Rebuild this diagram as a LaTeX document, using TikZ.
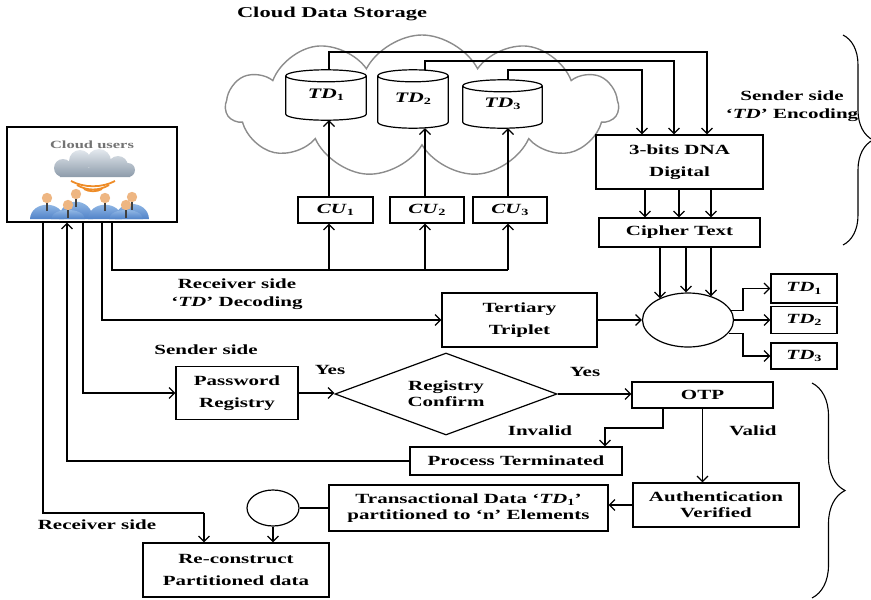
\documentclass[tikz,border=0pt]{standalone}
\usepackage{fontspec}
\setmainfont{Liberation Serif}[FakeStretch=1.5]
\usetikzlibrary{arrows.meta,shapes.geometric,shapes.symbols,decorations.pathreplacing,calc}

\definecolor{iconcloud}{RGB}{165,182,200}
\definecolor{personblue}{RGB}{80,130,200}
\definecolor{personlight}{RGB}{165,200,238}
\definecolor{headc}{RGB}{238,182,130}
\definecolor{signal}{RGB}{238,140,40}

% italic symbol with a small subscript
\newcommand\tdx[2]{\textit{#1}\raisebox{-0.35ex}{\fontsize{9.5}{9.5}\selectfont #2}}
% drum outline around a named node; #2 = half height of the end ellipse
\newcommand\drumoutline[2]{%
  \draw[line width=1.2pt] let \p1=($(#1.east)-(#1.west)$) in
    ([yshift=-#2pt]#1.north west) -- ([yshift=#2pt]#1.south west)
    arc[start angle=180, end angle=360, x radius=0.5*\x1, y radius=#2pt]
    -- ([yshift=-#2pt]#1.north east)
    arc[start angle=0, end angle=360, x radius=0.5*\x1, y radius=#2pt];}
% one figure of the user group
\newcommand\userfig[2]{%
  \shade[top color=personlight, bottom color=personblue]
    (#1-17,219) .. controls (#1-16,#2+2) and (#1+16,#2+2) .. (#1+17,219) -- cycle;
  \fill[headc] (#1,#2) circle[radius=5.2pt];
  \draw[black!75, line width=1.1pt] (#1,#2+5) -- (#1,#2+13);}

\begin{document}
\begin{tikzpicture}[x=1pt,y=-1pt,
  wire/.style={line width=1.2pt},
  arr/.style={wire, -{Straight Barb[length=5.5pt,width=11pt]}},
  box/.style={draw, line width=1.2pt, align=center, inner sep=0pt,
    font=\bfseries\fontsize{14}{22}\selectfont},
  tight/.style={font=\bfseries\fontsize{14}{16}\selectfont},
  lbl/.style={align=center, inner sep=0pt, font=\bfseries\fontsize{14}{18}\selectfont},
  drum/.style={inner sep=0pt, font=\bfseries\fontsize{14.5}{16}\selectfont},
]
\useasboundingbox (0,0) rectangle (871,600);

% ---------- cloud storage ----------
\node[cloud, cloud puffs=11, cloud puff arc=125, aspect=2.8, draw=black!45,
      line width=1.4pt, minimum width=392pt, minimum height=142pt, inner sep=0pt]
      (store) at (422,106) {};
\node[lbl, font=\bfseries\fontsize{15}{18}\selectfont] (title) at (332,14) {Cloud Data Storage};

\node[drum, minimum width=80pt, minimum height=50pt] (td1) at (326,95) {\raisebox{-6pt}{\tdx{TD}{1}}};
\node[drum, minimum width=70pt, minimum height=58pt] (td2) at (413,99) {\raisebox{-3pt}{\tdx{TD}{2}}};
\node[drum, minimum width=79pt, minimum height=48pt] (td3) at (502.5,104) {\raisebox{-6pt}{\tdx{TD}{3}}};
\drumoutline{td1}{6}
\drumoutline{td2}{6}
\drumoutline{td3}{6}

\node[box, minimum width=75pt, minimum height=26pt] (cu1) at (335.5,210) {\tdx{CU}{1}};
\node[box, minimum width=74pt, minimum height=26pt] (cu2) at (427,210) {\tdx{CU}{2}};
\node[box, minimum width=74pt, minimum height=26pt] (cu3) at (510,210) {\tdx{CU}{3}};

% ---------- encoding ----------
\node[box, minimum width=167pt, minimum height=54pt] (dna) at (679.5,162) {3-bits DNA\\Digital};
\node[box, minimum width=161pt, minimum height=29pt] (cipher) at (679.5,232.5) {Cipher Text};
\node[lbl] (enc) at (792,106) {Sender side\\`\textit{TD}' Encoding};

% ---------- decoding ----------
\node[box, minimum width=155pt, minimum height=54pt] (tert) at (519.5,320) {Tertiary\\Triplet};
\node[draw, ellipse, line width=1.2pt, minimum width=91pt, minimum height=54pt, inner sep=0pt] (ell) at (688,320) {};
\node[box, minimum width=66pt, minimum height=29pt] (to1) at (804,288.5) {\tdx{TD}{1}};
\node[box, minimum width=66pt, minimum height=27pt] (to2) at (804,320) {\tdx{TD}{2}};
\node[box, minimum width=66pt, minimum height=26pt] (to3) at (804,356) {\tdx{TD}{3}};
\node[lbl] (dec) at (237,294) {Receiver side\\`\textit{TD}' Decoding};

% ---------- users ----------
\node[draw, line width=1.2pt, minimum width=170pt, minimum height=95pt, inner sep=0pt] (users) at (92,174.5) {};
\node[font=\bfseries\fontsize{11}{11}\selectfont, text=black!55, inner sep=0pt] (utitle) at (92,145) {Cloud users};
\shade[top color=white!70!iconcloud, bottom color=iconcloud!85!black]
  (63,168) circle[radius=9pt] (80,161) circle[radius=11pt] (99,161) circle[radius=12pt]
  (118,166) circle[radius=10pt] (128,170) circle[radius=7pt] (60,168) rectangle (130,177);
\draw[signal, line width=1.8pt] (71,181) .. controls (84,188) and (102,188) .. (115,181);
\draw[signal, line width=1.8pt] (77,185) .. controls (87,191) and (99,191) .. (109,185);
\draw[signal, line width=1.8pt] (84,189) .. controls (89,192) and (97,192) .. (102,189);
\userfig{47}{198}
\userfig{76}{194}
\userfig{105}{198}
\userfig{132}{197}
\userfig{68}{205}
\userfig{126}{205}

% ---------- authentication ----------
\node[lbl] (sside) at (206,350) {Sender side};
\node[box, minimum width=122pt, minimum height=53pt] (pwd) at (237,393) {Password\\Registry};
\node[draw, diamond, aspect=2.7, minimum width=222pt, minimum height=82pt, inner sep=0pt,
      line width=1.2pt, align=center, tight] (dia) at (446,394) {Registry\\Confirm};
\node[box, minimum width=141pt, minimum height=26pt] (otp) at (702.5,395) {OTP};
\node[box, minimum width=212pt, minimum height=28pt] (pt) at (516,461) {Process Terminated};
\node[box, tight, minimum width=166pt, minimum height=44pt] (auth) at (716,505) {Authentication\\Verified};
\node[box, tight, minimum width=279pt, minimum height=46pt] (trans) at (468.5,508)
  {Transactional Data `\tdx{TD}{1}'\\partitioned to `n' Elements};
\node[draw, ellipse, line width=1.2pt, minimum width=52pt, minimum height=36pt, inner sep=0pt] (circ) at (273,508) {};
\node[box, minimum width=186pt, minimum height=54pt] (rec) at (236,570) {Re-construct\\Partitioned data};

\node[lbl] (yes1) at (330,370) {Yes};
\node[lbl] (yes2) at (585,372) {Yes};
\node[lbl] (inv) at (540,431) {Invalid};
\node[lbl] (val) at (753,431) {Valid};
\node[lbl] (rside) at (97,525) {Receiver side};

% ---------- connectors ----------
\coordinate (ca) at (43,0);
\coordinate (cb) at (67,0);
\coordinate (cc) at (83,0);
\coordinate (cd) at (102,0);
\coordinate (ce) at (112,0);
\coordinate (c1) at (329,0);
\coordinate (c2) at (425,0);
\coordinate (c3) at (508,0);

% users to the CU boxes, CU boxes up to storage
\coordinate (bus) at (508,270);
\draw[wire] (users.south -| ce) |- (bus);
\draw[arr] (bus -| c1) -- (cu1.south -| c1);
\draw[arr] (bus -| c2) -- (cu2.south -| c2);
\draw[arr] (bus) -- (cu3.south -| c3);
\draw[arr] (cu1.north -| c1) -- (td1.south -| c1);
\draw[arr] (cu2.north -| c2) -- (td2.south -| c2);
\draw[arr] (cu3.north -| c3) -- (td3.south -| c3);

% storage to the encoder
\coordinate (k1) at (707,52);
\coordinate (k2) at (674,61);
\coordinate (k3) at (642,70);
\draw[arr] (td1.north -| c1) |- (k1) -- (dna.north -| k1);
\draw[arr] (td2.north -| c2) |- (k2) -- (dna.north -| k2);
\draw[arr] (td3.north -| c3) |- (k3) -- (dna.north -| k3);

\foreach \xx in {645,679,711} {
  \coordinate (dcol) at (\xx,0);
  \draw[arr] (dna.south -| dcol) -- (cipher.north -| dcol);
}
% cipher text into the decoder, three parallel lines
\coordinate (e1) at (660,0);
\coordinate (e2) at (686,0);
\coordinate (e3) at (711,0);
\draw[arr] (cipher.south -| e1) -- (e1 |- ell.143);
\draw[arr] (cipher.south -| e2) -- (e2 |- ell.94);
\draw[arr] (cipher.south -| e3) -- (e3 |- ell.45);

% decoding
\draw[arr] (users.south -| cd) |- (tert.west);
\draw[arr] (tert.east) -- (ell.west);
\coordinate (bx) at (743,0);
\draw[arr] (ell.12) -- (ell.12 -| bx) |- (to1.west);
\draw[arr] (ell.east) -- (to2.west);
\draw[arr] (ell.-18) -- (ell.-18 -| bx) |- (to3.west);

% authentication flow
\draw[arr] (users.south -| cc) |- (pwd.west);
\draw[arr] (pwd.east) -- (pwd.east -| dia.west);
\draw[arr] (dia.east) -- (dia.east -| otp.west);
\coordinate (ob) at (663,428);
\coordinate (pb) at (605,428);
\draw[arr] (otp.south -| ob) -- (ob) -- (pb) -- (pt.north -| pb);
\draw[arr] (otp.south) -- (otp.south |- auth.north);
\draw[arr] (pt.west) -| (users.south -| cb);
\draw[arr] (auth.west) -- (auth.west -| trans.east);
\draw[wire] (circ.east) -- (circ.east -| trans.west);
\draw[arr] (circ.south) -- (circ.south |- rec.north);
\coordinate (rcol) at (204,513);
\draw[wire] (users.south -| ca) |- (rcol);
\draw[arr] (rcol) -- (rec.north -| rcol);

% braces
\draw[decorate, decoration={brace, amplitude=30pt}, line width=1.1pt] (843,35) -- (843,245);
\draw[decorate, decoration={brace, amplitude=33pt}, line width=1.1pt] (812,383) -- (812,598);
\end{tikzpicture}
\end{document}
